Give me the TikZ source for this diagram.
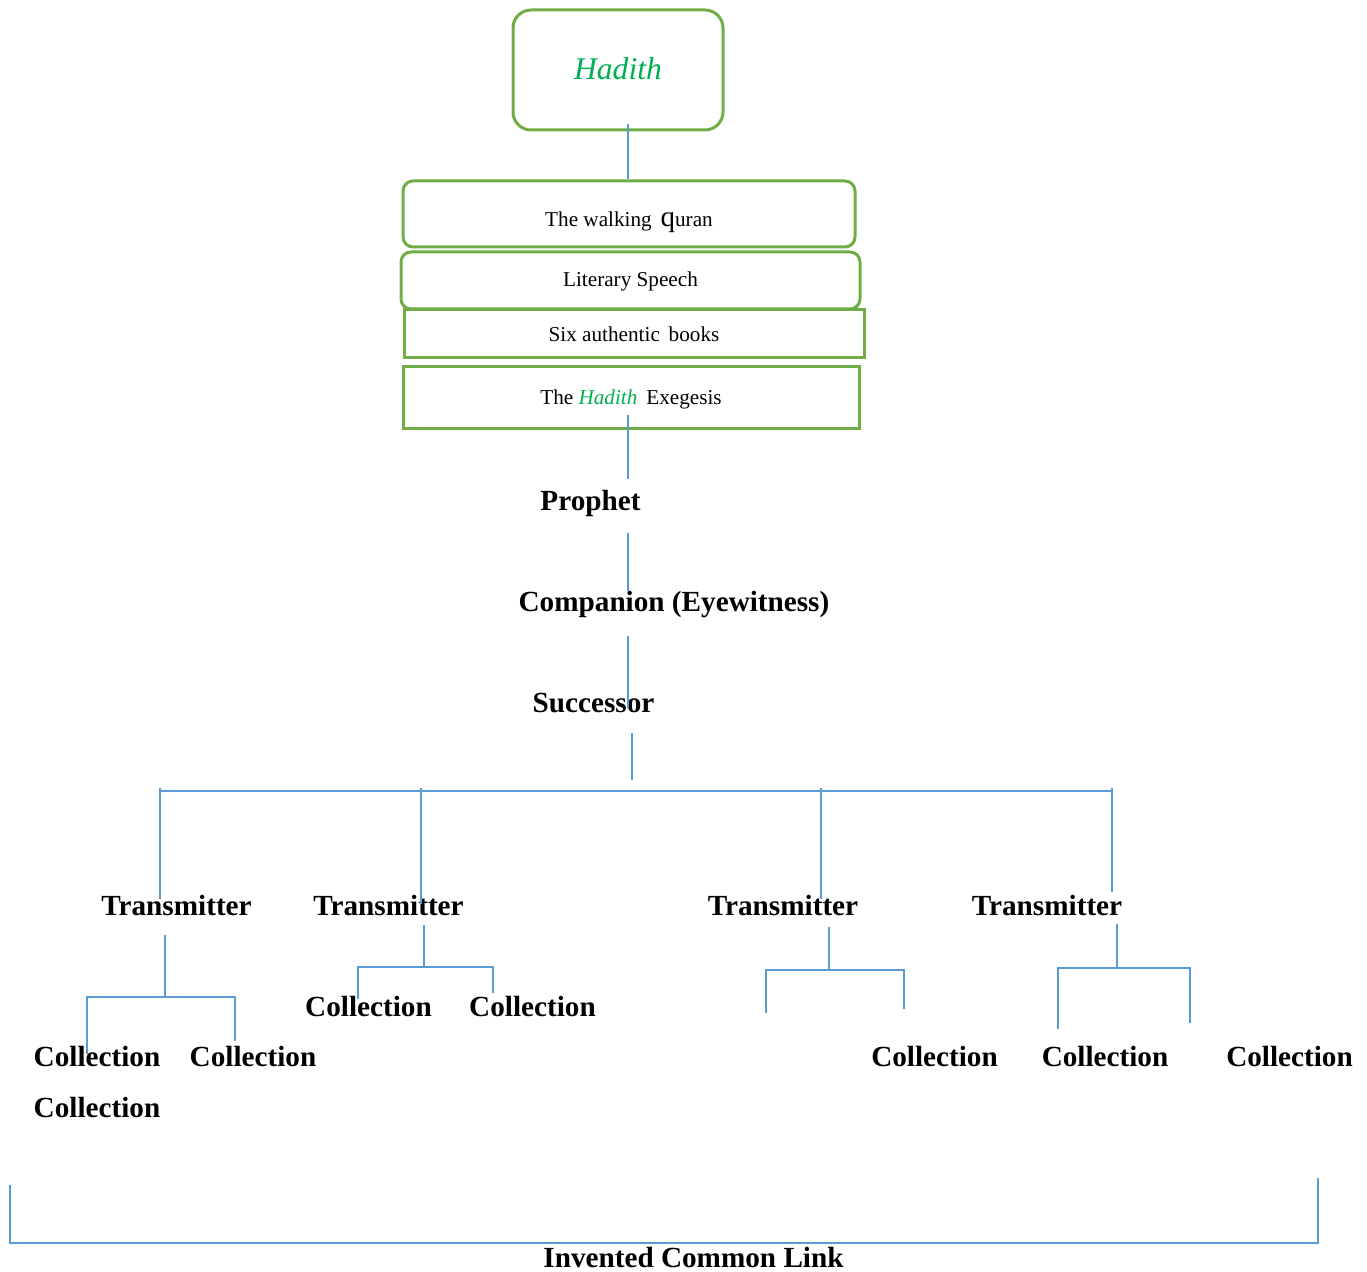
\documentclass[tikz,border=0pt]{standalone}
\usepackage{fontspec}
\setmainfont{Liberation Serif}
\usetikzlibrary{calc}
\definecolor{boxgreen}{RGB}{112,173,71}
\definecolor{hadithgreen}{RGB}{0,176,80}
\definecolor{lineblue}{RGB}{91,155,213}

\begin{document}
\begin{tikzpicture}[
  x=0.5pt, y=-0.5pt,
  block/.style={draw=boxgreen, line width=1.5pt, inner sep=0pt, align=center,
                font=\fontsize{10.6}{12}\selectfont},
  roundblock/.style={block, rounded corners=5pt},
  headblock/.style={block, rounded corners=9pt, text=hadithgreen,
                    font=\fontsize{15.8}{19}\selectfont\itshape},
  word/.style={font=\fontsize{14.6}{17}\selectfont\bfseries, inner sep=0pt, anchor=base},
  conn/.style={draw=lineblue, line width=1pt}
]
\useasboundingbox (0,0) rectangle (1367,1272);

% top stack
\node[headblock, minimum width=105pt, text height=35pt, text depth=25pt] (hadith) at (618,70) {Hadith};
\node[roundblock, minimum width=226pt, text height=23pt, text depth=10pt] (quran) at (629,214)
  {The walking \,{\fontsize{14.5}{14}\selectfont q}uran};
\node[roundblock, minimum width=229.5pt, text height=17.5pt, text depth=11pt] (speech) at (630.5,280.5)
  {Literary Speech};
\node[block, minimum width=230pt, text height=15.85pt, text depth=8.15pt] (books) at (634,334)
  {Six authentic \,books};
\node[block, minimum width=228pt, text height=18.65pt, text depth=12.35pt] (exeg) at (631,398)
  {The \textcolor{hadithgreen}{\textit{Hadith}} \,Exegesis};

% chain
\node[word] (prophet) at (590.5,510.7) {Prophet};
\node[word] (companion) at (674,611.7) {Companion (Eyewitness)};
\node[word] (successor) at (593.5,712.7) {Successor};

% transmitters
\node[word] (tr1) at (176.5,915.7) {Transmitter};
\node[word] (tr2) at (388.5,915.7) {Transmitter};
\node[word] (tr3) at (783,915.7) {Transmitter};
\node[word] (tr4) at (1047,915.7) {Transmitter};

% collections
\node[word] (col1) at (97,1066.7) {Collection};
\node[word] (col2) at (253,1066.7) {Collection};
\node[word] (col3) at (97,1117.7) {Collection};
\node[word] (col4) at (368.5,1016.7) {Collection};
\node[word] (col5) at (532.5,1016.7) {Collection};
\node[word] (col6) at (934.5,1066.7) {Collection};
\node[word] (col7) at (1105,1066.7) {Collection};
\node[word] (col8) at (1289.5,1066.7) {Collection};

\node[word] (common) at (693.5,1267) {Invented Common Link};

% spine
\coordinate (spine) at (628,0);
\coordinate (fork) at (632,791);
\draw[conn] ($(hadith.south -| spine)+(0,-7)$) -- (quran.north -| spine);
\draw[conn] ($(exeg.south -| spine)+(0,-15)$) -- ($(prophet.north -| spine)+(0,-11)$);
\draw[conn] ($(prophet.south -| spine)+(0,16)$) -- (companion.north -| spine);
\draw[conn] ($(companion.south -| spine)+(0,18)$) -- ($(successor.north -| spine)+(0,15)$);
\draw[conn] ($(successor.south -| fork)+(0,20)$) -- ($(fork)+(0,-11)$);

% main bar
\coordinate (b1) at (160,791);
\coordinate (b2) at (421,791);
\coordinate (b3) at (821,791);
\coordinate (b4) at (1112,791);
\draw[conn] (b1) -- (b4);
\draw[conn] ($(b1)+(0,-3)$) -- ($(b1 |- tr1.north)+(0,4)$);
\draw[conn] ($(b2)+(0,-3)$) -- ($(b2 |- tr2.north)+(0,9)$);
\draw[conn] ($(b3)+(0,-3)$) -- ($(b3 |- tr3.north)+(0,4)$);
\draw[conn] ($(b4)+(0,-3)$) -- ($(b4 |- tr4.north)+(0,-3)$);

% first transmitter
\coordinate (f1) at (165,997);
\coordinate (f1l) at (87,997);
\coordinate (f1r) at (235,997);
\draw[conn] ($(tr1.south -| f1)+(0,19)$) -- (f1);
\draw[conn] ($(f1l |- col1.north)+(0,8)$) -- (f1l) -- (f1r) -- ($(f1r |- col2.north)+(0,-5)$);

% second transmitter
\coordinate (f2) at (424,967);
\coordinate (f2l) at (358,967);
\coordinate (f2r) at (493,967);
\draw[conn] ($(tr2.south -| f2)+(0,9)$) -- (f2);
\draw[conn] ($(f2l |- col4.north)+(0,3)$) -- (f2l) -- (f2r) -- ($(f2r |- col5.north)+(0,-3)$);

% third transmitter
\coordinate (f3) at (828.5,970);
\coordinate (f3l) at (766,970);
\coordinate (f3r) at (904,970);
\draw[conn] ($(tr3.south -| f3)+(0,11)$) -- (f3);
\draw[conn] ($(f3l)+(0,43)$) -- (f3l) -- (f3r) -- ($(f3r)+(0,39)$);

% fourth transmitter
\coordinate (f4) at (1117,968);
\coordinate (f4l) at (1058,968);
\coordinate (f4r) at (1190,968);
\draw[conn] ($(tr4.south -| f4)+(0,8)$) -- (f4);
\draw[conn] ($(f4l)+(0,61)$) -- (f4l) -- (f4r) -- ($(f4r)+(0,55)$);

% bottom bracket
\coordinate (brl) at (10,1185);
\coordinate (brr) at (1318,1178);
\draw[conn] (brl) -- ($(brl |- common.north)+(0,-3)$) -- ($(brr |- common.north)+(0,-3)$) -- (brr);
\end{tikzpicture}
\end{document}
